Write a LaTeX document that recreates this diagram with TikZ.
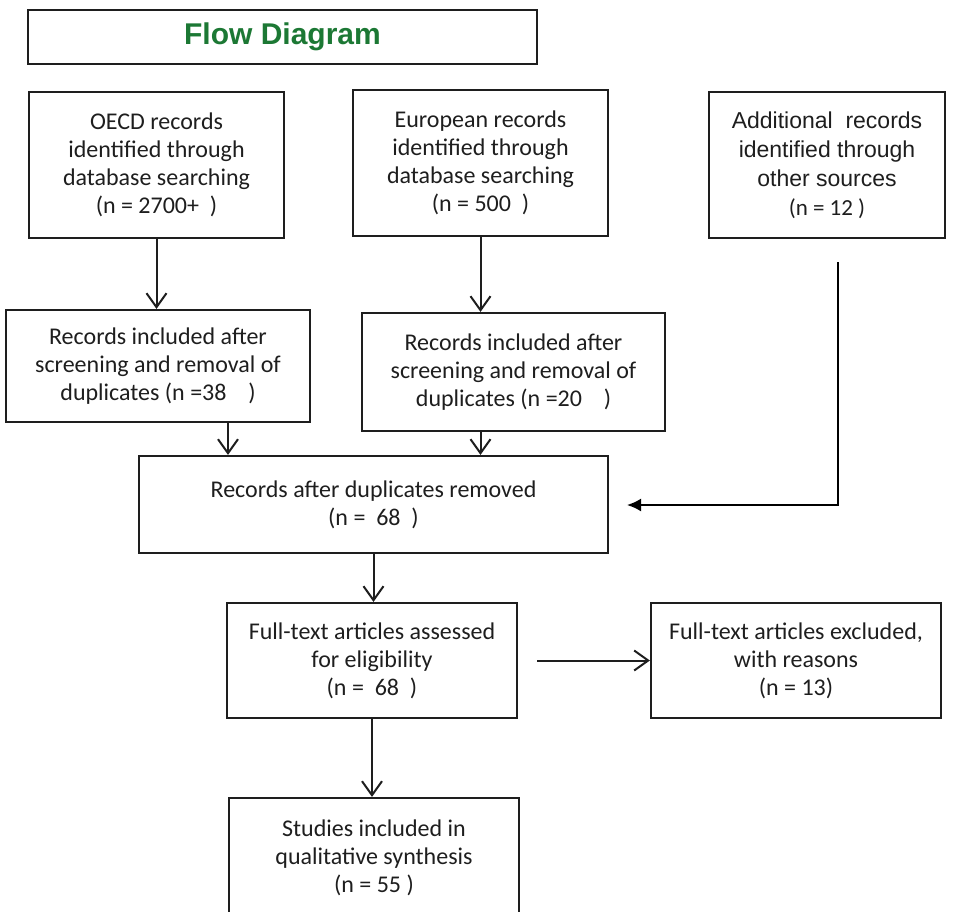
\documentclass[tikz,border=0pt]{standalone}
\usepackage{fontspec}
\setmainfont{Carlito}
\newfontfamily\arialfont{Liberation Sans}
\usetikzlibrary{arrows.meta}
\definecolor{titlegreen}{RGB}{28,120,52}
\definecolor{inkgray}{RGB}{30,30,30}
\tikzset{
  box/.style={draw=inkgray, line width=2.2pt, align=center, inner sep=0pt,
    text=inkgray, font=\fontsize{24}{28}\selectfont},
  arr/.style={draw=inkgray, line width=2pt,
    -{Straight Barb[length=14pt,width=20pt,line width=2pt]}},
  arrfill/.style={draw=black, line width=2pt, -{Latex[length=14pt,width=13pt]}}
}
\begin{document}
\begin{tikzpicture}[x=1pt,y=-1pt]
	\clip (0,0) rectangle (958,911);
	% title
	\node[box, font=\arialfont\bfseries\fontsize{30}{36}\selectfont, text=titlegreen,
		minimum width=509pt, minimum height=54pt] (title) at (282.5,37) {Flow Diagram};
	% identification
	\node[box, minimum width=255pt, minimum height=146pt] (oecd) at (156.5,165)
		{OECD records\\identified through\\database searching\\(n = 2700+~~)};
	\node[box, minimum width=255pt, minimum height=146pt] (europe) at (480.5,163)
		{European records\\identified through\\database searching\\(n = 500~~)};
	\node[box, font=\arialfont\fontsize{23}{29}\selectfont, minimum width=236pt, minimum height=146pt] (extra) at (827,165)
		{Additional~~records\\identified through\\other sources\\{\normalfont(n = 12 )}};
	% screening
	\node[box, minimum width=304pt, minimum height=112pt] (incl1) at (158,366)
		{Records included after\\screening and removal of\\duplicates (n =38~~~~)};
	\node[box, minimum width=303pt, minimum height=118pt] (incl2) at (513.5,372)
		{Records included after\\screening and removal of\\duplicates (n =20~~~~)};
	\node[box, minimum width=469pt, minimum height=97pt] (after) at (373.5,504.5)
		{Records after duplicates removed\\(n =~ 68~~)};
	% eligibility
	\node[box, minimum width=290pt, minimum height=115pt] (assess) at (372,660.5)
		{Full-text articles assessed\\for eligibility\\(n =~ 68~~)};
	\node[box, minimum width=290pt, minimum height=115pt] (excl) at (796,660.5)
		{Full-text articles excluded,\\with reasons\\(n = 13)};
	\node[box, minimum width=290pt, minimum height=120pt] (studies) at (374,858)
		{Studies included in\\qualitative synthesis\\(n = 55 )};
	% connectors
	\coordinate (extra-tail) at (838,262);
	\coordinate (after-in) at (627,505);
	\draw[arr] (oecd.south) -- (oecd.south |- incl1.north);
	\draw[arr] (europe.south) -- (europe.south |- incl2.north);
	\draw[arr] ([xshift=70pt]incl1.south) -- ([xshift=70pt]incl1.south |- after.north);
	\draw[arr] (incl2.south -| europe.south) -- (after.north -| europe.south);
	\draw[arrfill] (extra-tail) -- (extra-tail |- after-in) -- (after-in);
	\draw[arr] (after.south) -- (after.south |- assess.north);
	\draw[arr] ([xshift=19pt]assess.east) -- (excl.west);
	\draw[arr] (assess.south) -- (assess.south |- studies.north);
\end{tikzpicture}
\end{document}
